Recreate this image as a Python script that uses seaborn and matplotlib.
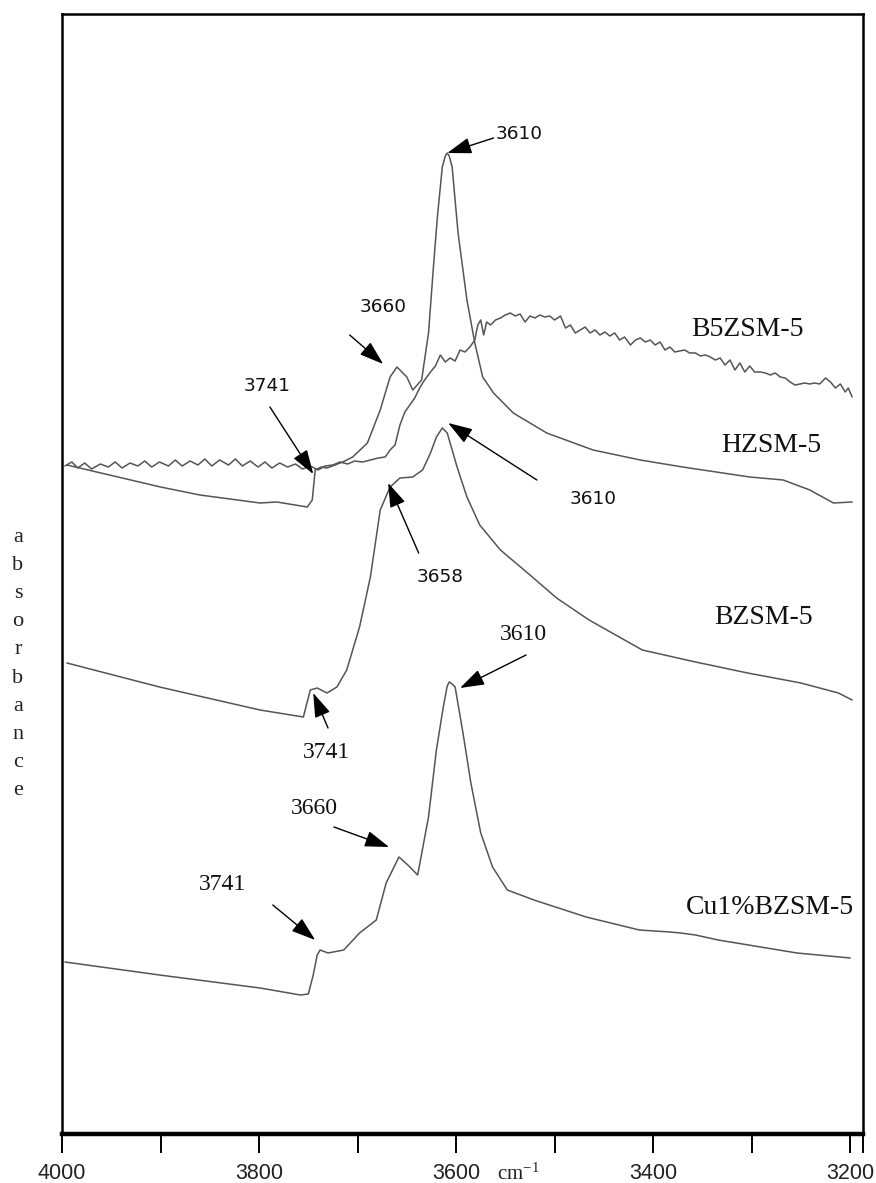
import numpy as np
import pandas as pd
import matplotlib
matplotlib.use("Agg")
import matplotlib.pyplot as plt
import seaborn as sns

sns.set_theme(style="white")
plt.rcParams['font.family'] = ['DejaVu Sans']
plt.rcParams['mathtext.fontset'] = 'stix'

# ---------------- data (wavenumber cm-1, absorbance arbitrary units) ----------------
hz_wn = [3995, 3900, 3860, 3799, 3782, 3751, 3746, 3743, 3737, 3731, 3715, 3705, 3690, 3677,
         3667, 3660, 3650, 3644, 3635, 3628, 3623, 3619, 3614, 3611, 3609, 3607, 3604, 3598,
         3589, 3581, 3573, 3562, 3542, 3508, 3461, 3413, 3370, 3302, 3268, 3241, 3217, 3198]
hz_abs = [669, 647, 639, 631, 632, 627, 634, 664, 667, 666, 672, 677, 691, 724,
          757, 767, 757, 744, 754, 801, 867, 917, 967, 978, 981, 978, 967, 901,
          834, 791, 757, 741, 721, 701, 684, 674, 667, 657, 654, 644, 631, 632]

b5_wn = [3997, 3990, 3984, 3977, 3970, 3961, 3953, 3946, 3939, 3931, 3923, 3916, 3909, 3901,
         3892, 3885, 3878, 3870, 3862, 3855, 3848, 3840, 3831, 3824, 3817, 3809, 3801, 3794,
         3787, 3779, 3771, 3763, 3756, 3748, 3740, 3733, 3725, 3718, 3710, 3703, 3695, 3687,
         3679, 3672, 3667, 3662, 3657, 3652, 3647, 3642, 3637, 3632, 3626, 3621, 3616, 3611,
         3606, 3601, 3596, 3591, 3586, 3581, 3578, 3575, 3572, 3569, 3565, 3560, 3555, 3550,
         3545, 3540, 3535, 3530, 3525, 3520, 3515, 3510, 3505, 3500, 3494, 3489, 3484, 3479,
         3474, 3469, 3464, 3459, 3454, 3449, 3444, 3439, 3434, 3429, 3423, 3418, 3413, 3408,
         3403, 3398, 3393, 3388, 3383, 3378, 3373, 3368, 3363, 3357, 3352, 3347, 3342, 3337,
         3332, 3327, 3322, 3317, 3312, 3307, 3302, 3297, 3291, 3286, 3281, 3276, 3271, 3266,
         3261, 3256, 3251, 3246, 3241, 3236, 3231, 3225, 3220, 3215, 3210, 3205, 3202, 3198]
b5_abs = [668, 672, 666, 671, 665, 670, 667, 672, 666, 671, 668, 673, 667, 672,
          668, 674, 668, 673, 669, 675, 668, 674, 669, 675, 668, 673, 667, 672,
          666, 671, 667, 670, 665, 668, 664, 668, 669, 672, 670, 673, 672, 674,
          676, 677, 684, 689, 709, 722, 729, 736, 746, 754, 762, 768, 779, 772,
          776, 773, 784, 782, 787, 794, 809, 814, 799, 812, 809, 814, 816, 819,
          821, 818, 820, 812, 818, 816, 819, 817, 818, 814, 818, 806, 809, 801,
          804, 807, 801, 804, 799, 802, 798, 801, 794, 797, 789, 794, 796, 792,
          794, 789, 792, 784, 787, 782, 783, 784, 781, 781, 778, 779, 777, 774,
          776, 769, 774, 764, 771, 762, 768, 762, 762, 761, 759, 761, 757, 756,
          752, 749, 750, 751, 750, 751, 750, 756, 752, 746, 750, 742, 746, 737]

bz_wn = [3995, 3901, 3799, 3755, 3748, 3741, 3731, 3721, 3711, 3698, 3687, 3677, 3667, 3657,
         3644, 3634, 3626, 3620, 3614, 3609, 3599, 3589, 3576, 3555, 3525, 3498, 3465, 3411,
         3357, 3304, 3250, 3212, 3198]
bz_abs = [471, 447, 424, 417, 444, 446, 441, 447, 464, 507, 557, 624, 647, 656,
          657, 664, 681, 697, 706, 701, 667, 637, 609, 584, 559, 536, 514, 484,
          472, 461, 451, 441, 434]

cu_wn = [3997, 3901, 3799, 3758, 3750, 3745, 3741, 3738, 3730, 3714, 3698, 3681, 3671, 3658,
         3649, 3639, 3628, 3620, 3613, 3609, 3607, 3604, 3601, 3593, 3585, 3575, 3563, 3548,
         3521, 3468, 3414, 3383, 3372, 3357, 3334, 3254, 3200]
cu_abs = [172, 159, 146, 139, 140, 159, 179, 184, 181, 184, 201, 214, 251, 277,
          269, 259, 317, 384, 427, 448, 452, 450, 447, 401, 351, 301, 267, 244,
          234, 217, 204, 202, 201, 199, 194, 181, 176]

series_names = ["B5ZSM-5", "HZSM-5", "BZSM-5", "Cu1%BZSM-5"]
# label anchor (wn, abs)
series_label_pos = [(3304, 804), (3280, 689), (3288, 516), (3281, 227)]

# peak annotations: text, text pos, arrow tail, arrow tip, font kind
ann_text = ["3610", "3660", "3741", "3610", "3658", "3741", "3610", "3660", "3741"]
ann_xy_text = [(3536, 1000), (3674, 827), (3792, 748), (3461, 635), (3616, 557),
               (3732, 382), (3532, 499), (3744, 326), (3837, 249)]
ann_tail = [(3562, 996), (3708, 799), (3789, 727), (3518, 654), (3638, 581),
            (3730, 406), (3529, 479), (3724, 307), (3786, 229)]
ann_tip = [(3609, 981), (3674, 770), (3745, 660), (3608, 711), (3669, 651),
           (3745, 441), (3596, 446), (3668, 287), (3743, 194)]
ann_serif = [False, False, False, False, False, True, True, True, True]

tick_major = [4000, 3800, 3600, 3400, 3200]
tick_minor = [3900, 3700, 3500, 3300, 3187]

# ---------------- figure ----------------
W, H = 876, 1183
fig = plt.figure(figsize=(W / 100, H / 100), dpi=100)
ax = fig.add_axes([62 / W, 1 - 1134 / H, (863 - 62) / W, (1134 - 14) / H])

line_color = "#555555"
for wn, ab in [(b5_wn, b5_abs), (hz_wn, hz_abs), (bz_wn, bz_abs), (cu_wn, cu_abs)]:
    df = pd.DataFrame({"wn": wn, "abs": ab})
    sns.lineplot(data=df, x="wn", y="abs", ax=ax, color=line_color, lw=1.1,
                 sort=False, estimator=None)

ax.set_xlim(4000, 3187)
ax.set_ylim(0, 1120)
ax.set_xlabel("")
ax.set_ylabel("")
ax.set_yticks([])
ax.set_xticks(tick_major)
ax.set_xticklabels([str(t) for t in tick_major], family="Liberation Sans", fontsize=15.5)
ax.set_xticks(tick_minor, minor=True)
ax.tick_params(axis="x", which="both", direction="out", length=13.7, width=1.4,
               bottom=True, color="black", pad=7, labelcolor="#222222")

for s in ["left", "right", "top"]:
    ax.spines[s].set_color("black")
    ax.spines[s].set_linewidth(1.8)
ax.spines["bottom"].set_color("black")
ax.spines["bottom"].set_linewidth(3.2)

ax.text(3558, -0.0405, "cm$^{\\mathregular{-1}}$", transform=ax.get_xaxis_transform(),
        ha="left", va="baseline", family="Liberation Serif", fontsize=15, color="#222222")

for name, (x, y) in zip(series_names, series_label_pos):
    ax.text(x, y, name, ha="center", va="center", family="Liberation Serif",
            fontsize=20, color="#111111")

for t, pt, tail, tip, serif in zip(ann_text, ann_xy_text, ann_tail, ann_tip, ann_serif):
    ax.annotate("", xy=tip, xytext=tail,
                arrowprops=dict(arrowstyle="-|>,head_length=1.5,head_width=0.5",
                                mutation_scale=10, lw=1.0, color="black",
                                shrinkA=0, shrinkB=0))
    if serif:
        ax.text(pt[0], pt[1], t, ha="center", va="center", family="Liberation Serif",
                fontsize=17, color="#111111")
    else:
        ax.text(pt[0], pt[1], t, ha="center", va="center", family="DejaVu Sans",
                fontsize=13.3, color="#111111")

fig.text(18 / W, 1 - 664 / H, "a\nb\ns\no\nr\nb\na\nn\nc\ne", ha="center", va="center",
         family="Liberation Serif", fontsize=16, linespacing=1.65, color="#222222")

fig.savefig("out.png", dpi=100, facecolor="white")
